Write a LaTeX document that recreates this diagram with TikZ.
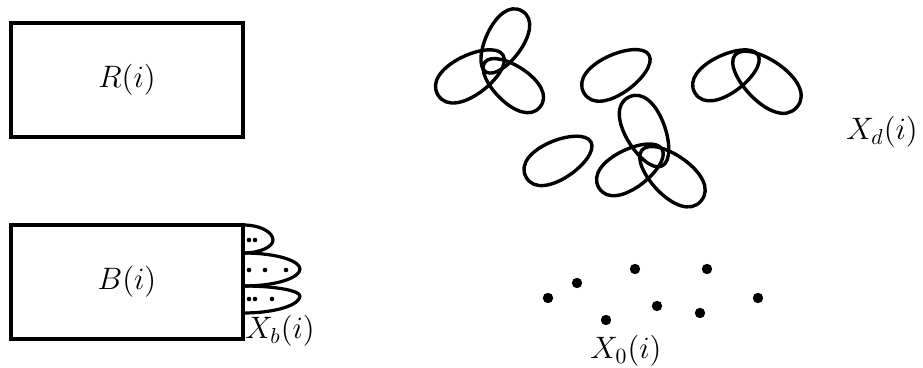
\documentclass[tikz,border=0pt]{standalone}
\usepackage{fix-cm}
\usetikzlibrary{calc}
\tikzset{
	box/.style={draw, line width=1.6pt, minimum width=116pt, minimum height=57pt, inner sep=0pt},
	petalline/.style={line width=1.7pt, line join=round},
	lobeline/.style={line width=1.6pt, line join=round},
}
% egg shaped loop from its narrow end (#1,#2) to its wide end (#3,#4)
\newcommand\drawpetal[4]{\draw[petalline] (#1,#2) .. controls ($(#1,#2)!.27!90:(#3,#4)$) and ($(#3,#4)!.42!-90:(#1,#2)$) .. (#3,#4) .. controls ($(#3,#4)!.42!90:(#1,#2)$) and ($(#1,#2)!.27!-90:(#3,#4)$) .. cycle;}
\begin{document}
\begin{tikzpicture}[x=.5pt, y=-.5pt, font=\fontsize{15.5}{18}\selectfont]
			\useasboundingbox (0,0) rectangle (923,368);
			\node[box] (R) at (127,80) {$R(i)$};
			\node[box] (B) at (127,282) {$B(i)$};
			% lobes of X_b on the right side of B
			\foreach \ya/\xt/\yt/\yb in {225/273/240/253, 253/300/269/286, 286/300/296/313}
				\draw[lobeline] (243,\ya) .. controls ({243+.6*(\xt-243)},\ya) and (\xt,{\yt-.5*(\yt-\ya)}) .. (\xt,\yt) .. controls (\xt,{\yt+.5*(\yb-\yt)}) and ({243+.6*(\xt-243)},\yb) .. (243,\yb);
			\foreach \x/\y in {249/240, 255/240, 249/270, 265/270, 286/270, 249/299, 255/299, 272/299}\fill (\x,\y) circle (1.15pt);
			\node (Xb) at (280,331) {$X_b(i)$};
			% loops of X_d
			\foreach \a/\b/\c/\d in {486/72/522/11, 503/55/438/95, 485/62/540/107, 649/55/584/93, 591/142/526/177, 662/166/629/97, 662/149/599/188, 642/150/701/201, 758/55/695/93, 735/55/797/107}\drawpetal{\a}{\b}{\c}{\d};
			\node (Xd) at (882,132) {$X_d(i)$};
			% points of X_0
			\foreach \x/\y in {548/298, 577/283, 635/269, 606/320, 657/306, 707/269, 700/313, 758/298}\fill (\x,\y) circle (2.6pt);
			\node (X0) at (626,351) {$X_0(i)$};
		\end{tikzpicture}
\end{document}
